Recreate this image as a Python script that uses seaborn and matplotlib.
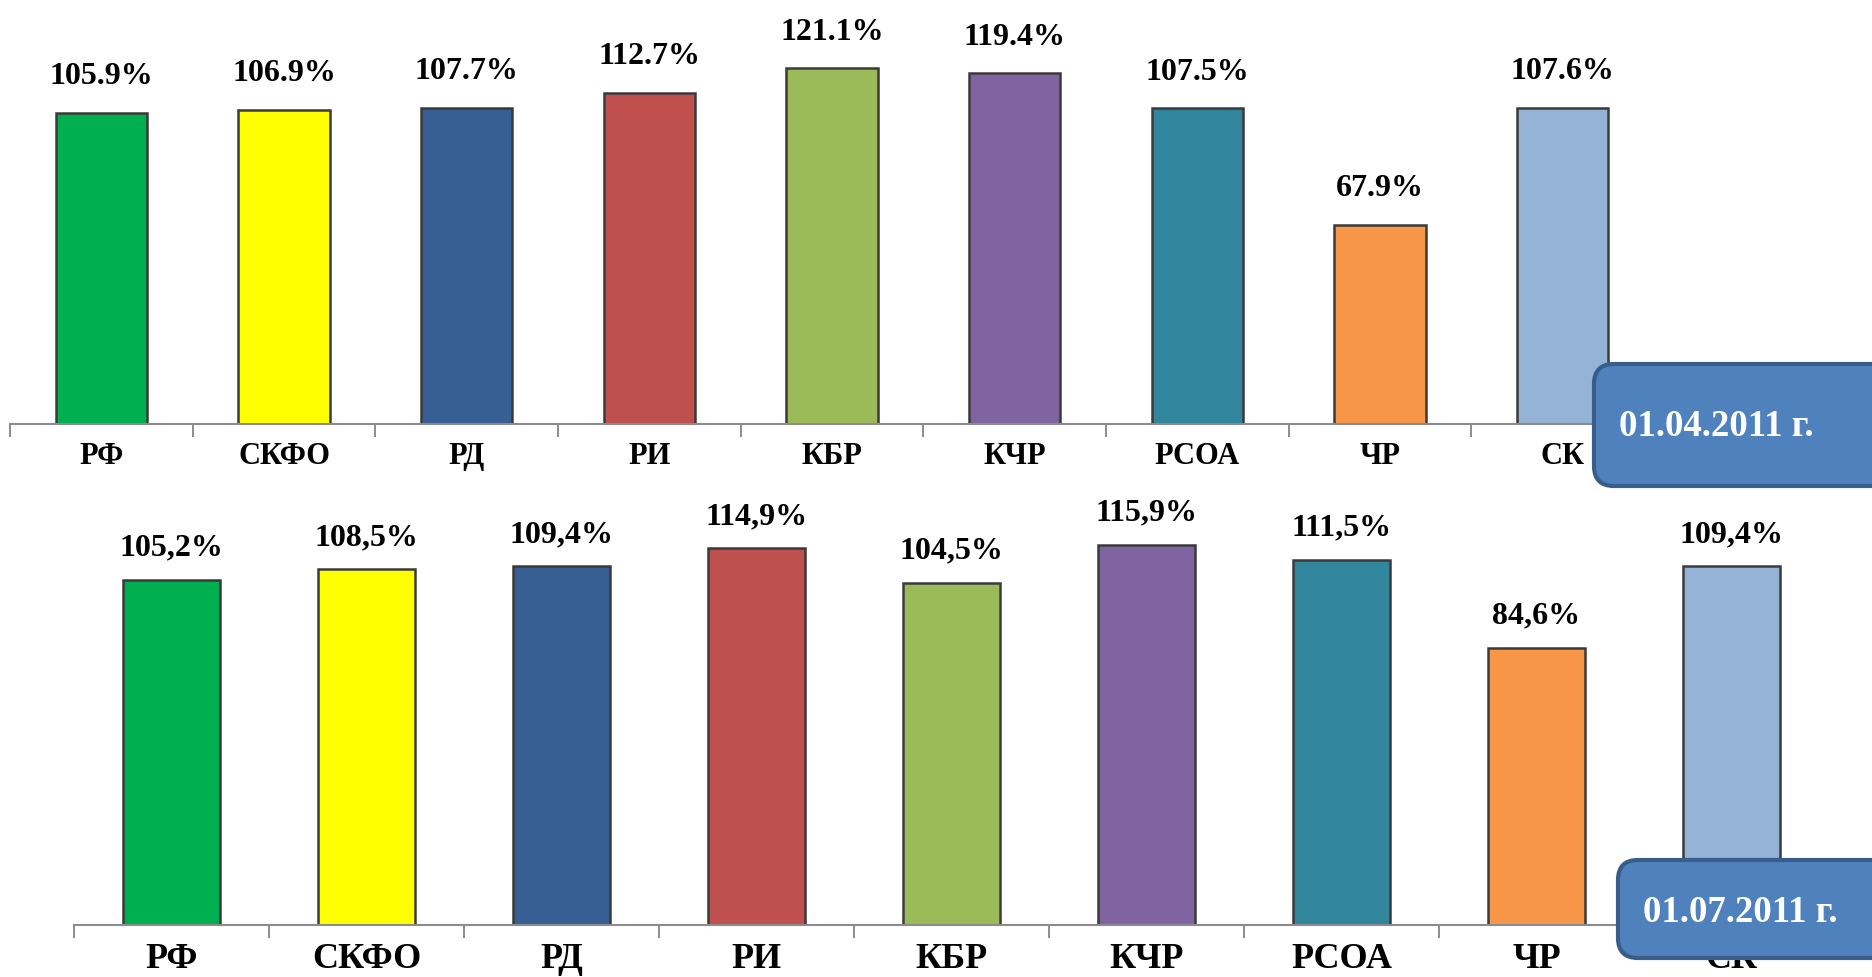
import pandas as pd
import matplotlib.pyplot as plt
import seaborn as sns
from matplotlib.patches import FancyBboxPatch

# regions and shares on two dates
regions = ['РФ', 'СКФО', 'РД', 'РИ', 'КБР', 'КЧР', 'РСОА', 'ЧР', 'СК']
values_apr = [105.9, 106.9, 107.7, 112.7, 121.1, 119.4, 107.5, 67.9, 107.6]
values_jul = [105.2, 108.5, 109.4, 114.9, 104.5, 115.9, 111.5, 84.6, 109.4]
labels_apr = ['105.9%', '106.9%', '107.7%', '112.7%', '121.1%', '119.4%', '107.5%', '67.9%', '107.6%']
labels_jul = ['105,2%', '108,5%', '109,4%', '114,9%', '104,5%', '115,9%', '111,5%', '84,6%', '109,4%']
dates = ['01.04.2011 г.', '01.07.2011 г.']
colors = ['#00B050', '#FFFF00', '#365F94', '#C0504D', '#9BBB59',
          '#8064A2', '#31859C', '#F79646', '#95B3D7']

sns.set_style('white')
plt.rcParams['font.family'] = ['Liberation Serif', 'DejaVu Serif']
plt.rcParams['font.weight'] = 'bold'
plt.rcParams['text.color'] = 'black'
plt.rcParams['xtick.color'] = 'black'
plt.rcParams['xtick.labelcolor'] = 'black'

fig = plt.figure(figsize=(18.72, 9.77), dpi=100)

W, H = 1872, 977
# (left px, right px, baseline px, px per percent, label size, tick size, label offset)
panels = [
    (10, 1654, 424, 2.937, 23, 22, 26),
    (74, 1829, 925, 3.277, 23, 26, 23),
]
data = [(values_apr, labels_apr), (values_jul, labels_jul)]

for (x0, x1, base, scale, lsize, tsize, off), (vals, labs) in zip(panels, data):
    top = base - 440
    ax = fig.add_axes([x0 / W, (H - base) / H, (x1 - x0) / W, (base - top) / H])
    df = pd.DataFrame({'region': regions, 'value': vals})
    sns.barplot(data=df, x='region', y='value', hue='region', palette=colors,
                width=0.5, edgecolor='#3a3a3a', linewidth=1.8, legend=False,
                saturation=1, ax=ax)
    ax.set_xlim(-0.5, len(regions) - 0.5)
    ax.set_ylim(0, (base - top) / scale)
    for i, (v, t) in enumerate(zip(vals, labs)):
        ax.annotate(t, (i, v), xytext=(0, off), textcoords='offset points',
                    ha='center', va='center', fontsize=lsize, fontweight='bold',
                    color='black')
    for s in ['top', 'right', 'left']:
        ax.spines[s].set_visible(False)
    ax.spines['bottom'].set_color('#8c8c8c')
    ax.spines['bottom'].set_linewidth(1.5)
    ax.set_yticks([])
    ax.set_xlabel('')
    ax.set_ylabel('')
    ax.set_xticks(range(len(regions)))
    ax.set_xticklabels(regions, fontsize=tsize, fontweight='bold', color='black')
    ax.set_xticks([i - 0.5 for i in range(len(regions) + 1)], minor=True)
    ax.tick_params(axis='x', which='major', bottom=True, length=0, pad=13)
    ax.tick_params(axis='x', which='minor', bottom=True, length=9, width=1.4,
                   color='#8c8c8c', direction='out')
    ax.patch.set_alpha(0)

# date boxes
boxes = [((15.94, 4.91, 3.2, 1.22), (17.16, 5.50)),
         ((16.18, 0.19, 3.0, 0.98), (17.40, 0.64))]
for ((bx, by, bw, bh), (tx, ty)), d in zip(boxes, dates):
    p = FancyBboxPatch((bx, by), bw, bh, boxstyle='round,pad=0,rounding_size=0.2',
                       transform=fig.dpi_scale_trans, facecolor='#4F81BD',
                       edgecolor='#385D8A', linewidth=3, zorder=10)
    fig.patches.append(p)
    fig.text(tx, ty, d, transform=fig.dpi_scale_trans, ha='center', va='center',
             color='white', fontsize=26.5, fontweight='bold', zorder=11)

plt.savefig('out.png', dpi=100)
plt.close()
